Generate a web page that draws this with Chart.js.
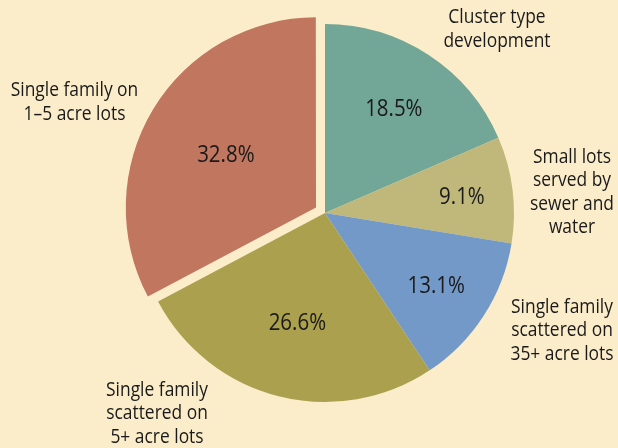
<!DOCTYPE html>
<html>
<head>
<meta charset="utf-8">
<script src="https://cdn.jsdelivr.net/npm/chart.js@4.4.0/dist/chart.umd.min.js"></script>
<style>
html,body{margin:0;padding:0;background:#FBEDCA;}
#wrap{width:618px;height:448px;position:relative;}
</style>
</head>
<body>
<div id="wrap"><canvas id="c" width="618" height="448"></canvas></div>
<script>
const categories = [
  "Cluster type development",
  "Small lots served by sewer and water",
  "Single family scattered on 35+ acre lots",
  "Single family scattered on 5+ acre lots",
  "Single family on 1–5 acre lots"
];
const shares = [18.5, 9.1, 13.1, 26.6, 32.8];
const valueLabels = ["18.5%", "9.1%", "13.1%", "26.6%", "32.8%"];
const labelLines = [
  ["Cluster type", "development"],
  ["Small lots", "served by", "sewer and", "water"],
  ["Single family", "scattered on", "35+ acre lots"],
  ["Single family", "scattered on", "5+ acre lots"],
  ["Single family on", "1–5 acre lots"]
];
const colors = ["#72A696", "#C0B77A", "#7299C8", "#AAA04E", "#C0765F"];
const offsets = [0, 0, 0, 0, 42];

// label placement (relative to chart centre) for outside labels
const outsidePos = [[172, -185], [247, -22], [237, 116], [-168, 199], [-250.5, -112]];
const insideFrac = [0.664, 0.73, 0.70, 0.596, 0.55];

const labelPlugin = {
  id: 'labelPlugin',
  afterDatasetsDraw(chart) {
    const ctx = chart.ctx;
    const meta = chart.getDatasetMeta(0);
    ctx.save();
    ctx.fillStyle = '#1a1a1a';
    ctx.textAlign = 'center';
    ctx.textBaseline = 'alphabetic';
    meta.data.forEach((arc, i) => {
      const mid = (arc.startAngle + arc.endAngle) / 2;
      const off = (arc.options.offset || 0) / 4;
      const fix = 1 - Math.sin(Math.min(Math.PI, arc.circumference || 0));
      const shift = off * (1 + fix);
      const r = arc.outerRadius * insideFrac[i] + shift;
      const x = arc.x + Math.cos(mid) * r;
      const y = arc.y + Math.sin(mid) * r;
      ctx.save();
      ctx.translate(x, y + 0.357 * 23);
      ctx.scale(0.89, 1);
      ctx.font = '23px "Open Sans"';
      ctx.fillText(valueLabels[i], 0, 0);
      ctx.restore();
    });
    const cx = meta.data[0].x, cy = meta.data[0].y;
    labelLines.forEach((lines, i) => {
      const [ox, oy] = outsidePos[i];
      const n = lines.length;
      lines.forEach((ln, k) => {
        const y = cy + oy + (k - (n - 1) / 2) * 23.5;
        ctx.save();
        ctx.translate(cx + ox, y + 0.357 * 20);
        ctx.scale(0.87, 1);
        ctx.font = '20px "Open Sans"';
        ctx.fillText(ln, 0, 0);
        ctx.restore();
      });
    });
    ctx.restore();
  }
};

const bgPlugin = {
  id: 'bg',
  beforeDraw(chart) {
    const ctx = chart.ctx;
    ctx.save();
    ctx.fillStyle = '#FBEDCA';
    ctx.fillRect(0, 0, chart.width, chart.height);
    ctx.restore();
  }
};

new Chart(document.getElementById('c'), {
  type: 'pie',
  data: {
    labels: categories,
    datasets: [{
      data: shares,
      backgroundColor: colors,
      borderWidth: 0,
      offset: offsets
    }]
  },
  options: {
    responsive: false,
    animation: false,
    radius: 189,
    layout: { padding: { left: 32, right: 0, top: 0, bottom: 22 } },
    plugins: { legend: { display: false }, tooltip: { enabled: false } }
  },
  plugins: [bgPlugin, labelPlugin]
});
</script>
</body>
</html>
